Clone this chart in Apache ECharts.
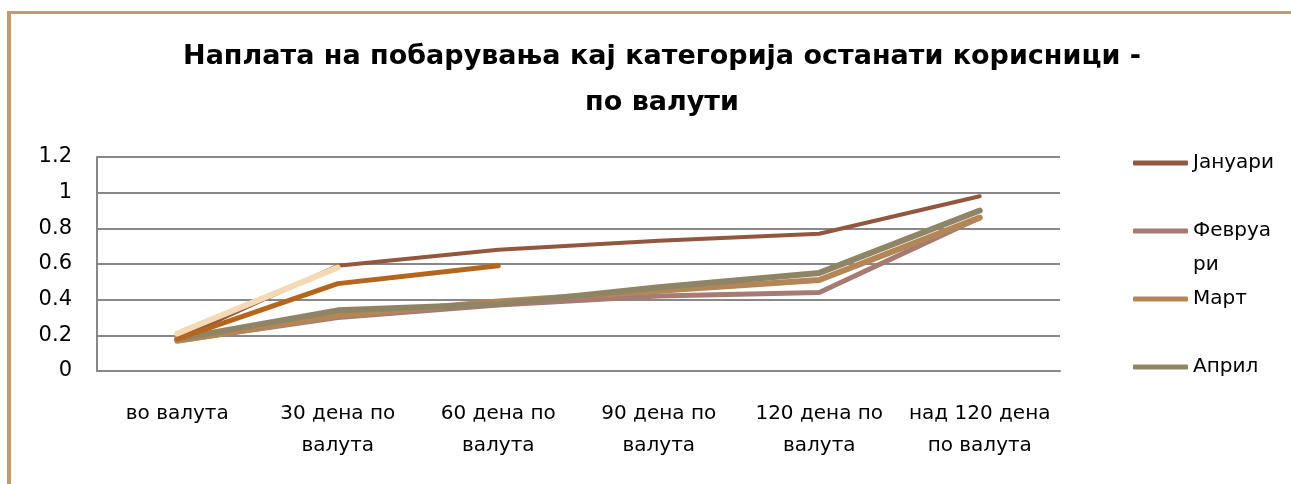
<!DOCTYPE html>
<html>
<head>
<meta charset="utf-8">
<script src="https://cdn.jsdelivr.net/npm/echarts@6/dist/echarts.min.js"></script>
<style>
  html, body { margin: 0; padding: 0; background: #fff; }
  #wrap { position: relative; width: 1291px; height: 484px; overflow: hidden; background: #fff; }
  #frame { position: absolute; left: 7px; top: 11px; width: 1400px; height: 600px; border-left: 4px solid #c49a6c; border-top: 3px solid #c49a6c; box-sizing: border-box; }
  #chart { position: absolute; left: 0; top: 0; width: 1291px; height: 484px; }
</style>
</head>
<body>
<div id="wrap">
  <div id="frame"></div>
  <div id="chart"></div>
</div>
<script>
const titleText = 'Наплата на побарувања кај категорија останати корисници -\nпо валути';
const categories = ['во валута', '30 дена по\nвалута', '60 дена по\nвалута', '90 дена по\nвалута', '120 дена по\nвалута', 'над 120 дена\nпо валута'];
const yTicks = [0, 0.2, 0.4, 0.6, 0.8, 1, 1.2];
const legendNames = ['Јануари', 'Февруари', 'Март', 'Април'];
const january = [0.18, 0.59, 0.68, 0.73, 0.77, 0.98];
const february = [0.17, 0.30, 0.37, 0.42, 0.44, 0.86];
const march = [0.17, 0.31, 0.39, 0.45, 0.51, 0.86];
const april = [0.18, 0.34, 0.375, 0.47, 0.55, 0.90];
const may = [0.18, 0.49, 0.59, null, null, null];
const june = [0.21, 0.58, null, null, null, null];

const FONT = '"DejaVu Sans", "Open Sans", sans-serif';
const chart = echarts.init(document.getElementById('chart'), null, { renderer: 'canvas' });

function mkLine(name, data, color, width) {
  return {
    name: name, type: 'line', data: data, symbol: 'none', connectNulls: false,
    lineStyle: { color: color, width: width, cap: 'round', join: 'round' },
    itemStyle: { color: color },
    emphasis: { disabled: true }, animation: false
  };
}

chart.setOption({
  animation: false,
  backgroundColor: 'transparent',
  title: {
    text: titleText, left: 657, textAlign: 'center', top: 29,
    textStyle: { fontFamily: FONT, fontWeight: 'bold', fontSize: 27, color: '#000', lineHeight: 46 }
  },
  legend: {
    orient: 'vertical', left: 1133, top: 112, padding: 0, itemGap: -34,
    itemWidth: 55, itemHeight: 5, icon: 'roundRect',
    data: legendNames,
    formatter: function (n) { return n === 'Февруари' ? '\nФевруа\nри' : '\n' + n + '\n'; },
    textStyle: { fontFamily: FONT, fontSize: 20, color: '#000', lineHeight: 34 }
  },
  grid: { left: 97, right: 231, top: 157, bottom: 113, containLabel: false },
  xAxis: {
    type: 'category', data: categories, boundaryGap: true,
    axisLine: { show: true, lineStyle: { color: '#888', width: 2 } },
    axisTick: { show: false },
    axisLabel: { interval: 0, margin: 27, fontFamily: FONT, fontSize: 20, color: '#000', lineHeight: 32 }
  },
  yAxis: {
    type: 'value', min: 0, max: 1.2, interval: 0.2,
    axisLine: { show: true, lineStyle: { color: '#888', width: 2 } },
    axisTick: { show: false },
    splitLine: { show: true, lineStyle: { color: '#888', width: 2 } },
    axisLabel: { margin: 25, fontFamily: FONT, fontSize: 21, color: '#000',
      formatter: function (v) { const t = yTicks.find(x => Math.abs(x - v) < 1e-9); return String(t !== undefined ? t : v); } }
  },
  series: [
    mkLine('Јануари', january, '#93563f', 4),
    mkLine('Февруари', february, '#a57b73', 5),
    mkLine('Март', march, '#b38658', 6),
    mkLine('Април', april, '#8f8566', 6),
    mkLine('Мај', may, '#b5661e', 5),
    mkLine('Јуни', june, '#f5d9b4', 6)
  ]
});
</script>
</body>
</html>
